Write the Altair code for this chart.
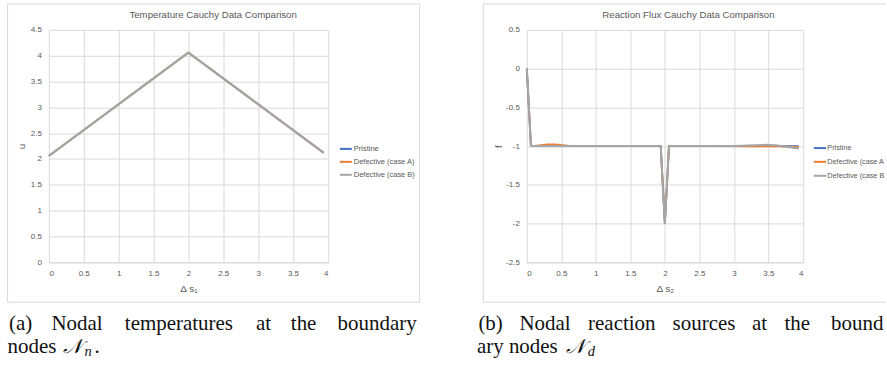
import altair as alt
import pandas as pd

# ---------------- data ----------------
SERIES = ["Pristine", "Defective (case A)", "Defective (case B)"]
COLORS = ["#4472C4", "#ED7D31", "#A5A5A5"]

# panel (a): temperatures u along boundary coordinate Δs1
s1_pristine = [0.0, 2.0, 3.94]
u_pristine = [2.06, 4.06, 2.12]
s1_caseA = [0.0, 2.0, 3.94]
u_caseA = [2.06, 4.06, 2.12]
s1_caseB = [0.0, 2.0, 3.94]
u_caseB = [2.06, 4.06, 2.12]

# panel (b): reaction flux f along boundary coordinate Δs2
s2_pristine = [0.0, 0.06, 1.94, 2.0, 2.06, 3.94]
f_pristine = [0.0, -1.0, -1.0, -2.0, -1.0, -1.0]
s2_caseA = [0.0, 0.06, 0.18, 0.30, 0.42, 0.55, 0.67, 1.94, 2.0, 2.06, 2.70, 3.30, 3.64, 3.94]
f_caseA = [0.0, -1.0, -0.99, -0.978, -0.978, -0.99, -1.0, -1.0, -2.0, -1.0, -1.0, -1.005, -1.005, -1.012]
s2_caseB = [0.0, 0.06, 1.94, 2.0, 2.06, 3.0, 3.30, 3.45, 3.60, 3.94]
f_caseB = [0.0, -1.0, -1.0, -2.0, -1.0, -1.0, -0.99, -0.985, -0.99, -1.03]

x_ticks = [0, 0.5, 1, 1.5, 2, 2.5, 3, 3.5, 4]
u_ticks = [0, 0.5, 1, 1.5, 2, 2.5, 3, 3.5, 4, 4.5]
f_ticks = [-2.5, -2, -1.5, -1, -0.5, 0, 0.5]

title_a = "Temperature Cauchy Data Comparison"
title_b = "Reaction Flux Cauchy Data Comparison"
xtitle_a = "Δ s₁"
xtitle_b = "Δ s₂"
ytitle_a = "u"
ytitle_b = "f"

caption_a_line1 = ["(a)", "Nodal", "temperatures", "at", "the", "boundary"]
caption_a_line2 = "nodes"
caption_b_line1 = ["(b)", "Nodal", "reaction", "sources", "at", "the", "bound"]
caption_b_line2 = "ary nodes"
script_N = "𝒩"

# ---------------- styling ----------------
GRID = "#D9D9D9"
TXT = "#595959"
SANS = "Liberation Sans"
SERIF = "Liberation Serif"
CAP_SIZE = 21
PAGE_W = 887.0
WIDTHS = [1.8, 1.8, 2.1]


def long_df(xs_list, ys_list):
    rows = []
    for name, xs, ys in zip(SERIES, xs_list, ys_list):
        for i, (a, b) in enumerate(zip(xs, ys)):
            rows.append({"s": a, "v": b, "series": name, "i": i})
    return pd.DataFrame(rows)


def blank():
    return alt.Chart(alt.Data(values=[{}]))


def text(s, x, y, size, font=SERIF, color="#111111", align="left",
         baseline="alphabetic", style="normal", limit=None):
    kw = dict(align=align, baseline=baseline, font=font, fontSize=size,
              color=color, fontStyle=style)
    if limit is not None:
        kw["limit"] = limit
        kw["ellipsis"] = "\u200b"
    return blank().mark_text(**kw).encode(
        x=alt.value(x), y=alt.value(y), text=alt.value(s))


def hrule(x0, x1, y, color=GRID, width=1):
    return blank().mark_rule(color=color, strokeWidth=width).encode(
        x=alt.value(x0), x2=alt.value(x1), y=alt.value(y))


def vrule(x, y0, y1, color=GRID, width=1):
    return blank().mark_rule(color=color, strokeWidth=width).encode(
        x=alt.value(x), y=alt.value(y0), y2=alt.value(y1))


def panel(df, yticks, ydom, W, H, title, title_cx, xtitle, ytitle, ytitle_x,
          legend, frame, extra):
    xaxis = alt.Axis(values=x_ticks, labelExpr="'' + datum.value", grid=True,
                     gridColor=GRID, gridWidth=1, domain=True, domainColor=GRID,
                     ticks=False, tickSize=0, labelPadding=7, labelFont=SANS,
                     labelFontSize=8, labelColor=TXT, title=xtitle,
                     titleFont=SANS, titleFontSize=10, titleFontWeight="normal",
                     titleColor=TXT, titleX=W / 2, titleY=26,
                     titleAlign="center", titleBaseline="middle")
    yaxis = alt.Axis(values=yticks, labelExpr="'' + datum.value", grid=True,
                     gridColor=GRID, gridWidth=1, domain=False, ticks=False,
                     tickSize=0, labelPadding=7.5, labelFont=SANS,
                     labelFontSize=8, labelColor=TXT, title=ytitle,
                     titleFont=SANS, titleFontSize=10, titleFontWeight="normal",
                     titleColor=TXT, titleX=ytitle_x, titleY=H / 2,
                     titleAngle=270, titleAlign="center",
                     titleBaseline="middle")
    base = alt.Chart(df).encode(
        x=alt.X("s:Q", scale=alt.Scale(domain=[0, 4], nice=False, zero=False),
                axis=xaxis),
        y=alt.Y("v:Q", scale=alt.Scale(domain=ydom, nice=False, zero=False),
                axis=yaxis),
        color=alt.Color("series:N", scale=alt.Scale(domain=SERIES, range=COLORS),
                        legend=legend),
        order=alt.Order("i:Q"),
    )
    lines = [base.transform_filter(alt.datum.series == name)
             .mark_line(strokeWidth=w) for name, w in zip(SERIES, WIDTHS)]
    ttl = text(title, title_cx, -14.5, 9.7, font=SANS, color=TXT,
               align="center", baseline="middle")
    return alt.layer(*frame, *lines, ttl, *extra).properties(width=W, height=H)


df_a = long_df([s1_pristine, s1_caseA, s1_caseB], [u_pristine, u_caseA, u_caseB])
df_b = long_df([s2_pristine, s2_caseA, s2_caseB], [f_pristine, f_caseA, f_caseB])

# plot origins on the page
ax0, ay0 = 48.7, 29.0
bx0, by0 = 527.3, 29.0
W_A, H_A = 279.6, 233.0
W_B, H_B = 276.7, 233.0

# caption word centres (page x)
cap_a_cx = [20.4, 76.9, 179.0, 263.8, 304.0, 377.7]
cap_b_cx = [491.0, 545.6, 622.5, 704.9, 760.5, 798.3, 858.5]
L1, L2 = 329.5, 352.5

extra_a = [text(w, x - ax0, L1 - ay0, CAP_SIZE, align="center")
           for w, x in zip(caption_a_line1, cap_a_cx)]
extra_a += [
    text(caption_a_line2, 7.3 - ax0, L2 - ay0, CAP_SIZE),
    text(script_N, 63.0 - ax0, L2 - ay0, 20, style="italic"),
    text("n", 84.5 - ax0, L2 + 3.5 - ay0, 14.5, style="italic"),
    text(".", 94.5 - ax0, L2 - ay0, CAP_SIZE),
]
extra_b = [text(w, x - bx0, L1 - by0, CAP_SIZE, align="center")
           for w, x in zip(caption_b_line1, cap_b_cx)]
extra_b += [
    text(caption_b_line2, 477.3 - bx0, L2 - by0, CAP_SIZE),
    text(script_N, 567.0 - bx0, L2 - by0, 20, style="italic"),
    text("d", 588.5 - bx0, L2 + 3.5 - by0, 14.5, style="italic"),
]
# legend of panel (b), cut by the page edge like the reference
leg_rows_y = [147.5, 161.3, 175.3]
for name, col, yy in zip(SERIES, COLORS, leg_rows_y):
    extra_b.append(hrule(815.0 - bx0, 827.4 - bx0, yy - by0, color=col, width=2))
    extra_b.append(text(name, 828.5 - bx0, yy - by0, 7.3, font=SANS, color=TXT,
                        baseline="middle", limit=PAGE_W - 828.5))

frame_a = [blank().mark_rect(fill="white", fillOpacity=0, stroke=GRID,
                             strokeWidth=1).encode(
    x=alt.value(7.3 - ax0), x2=alt.value(420.3 - ax0),
    y=alt.value(3.0 - ay0), y2=alt.value(302.0 - ay0))]
frame_b = [
    vrule(483.7 - bx0, 3.0 - by0, 302.0 - by0),
    hrule(483.2 - bx0, PAGE_W - bx0, 3.0 - by0),
    hrule(483.2 - bx0, PAGE_W - bx0, 302.0 - by0),
]

legend_a = alt.Legend(orient="none", legendX=339.3 - ax0, legendY=141.3 - ay0,
                      title=None, symbolType="stroke", symbolSize=144,
                      symbolStrokeWidth=2, labelFont=SANS, labelFontSize=7.5,
                      labelColor=TXT, labelOffset=1, rowPadding=2, padding=0)

chart_a = panel(df_a, u_ticks, [0, 4.5], W_A, H_A, title_a, 213.3 - ax0,
                xtitle_a, ytitle_a, 21.7 - ax0, legend_a, frame_a, extra_a)
chart_b = panel(df_b, f_ticks, [-2.5, 0.5], W_B, H_B, title_b, 689.3 - bx0,
                xtitle_b, ytitle_b, 498.7 - bx0, None, frame_b, extra_b)

chart = alt.hconcat(chart_a, chart_b, spacing=bx0 - (ax0 + W_A),
                    bounds="flush").resolve_scale(color="independent").properties(
    padding={"left": 7, "top": 2.5, "right": 0, "bottom": 0},
    background="white",
).configure_view(stroke=None)

chart.save("out.html", embed_options={"renderer": "svg", "actions": False})
